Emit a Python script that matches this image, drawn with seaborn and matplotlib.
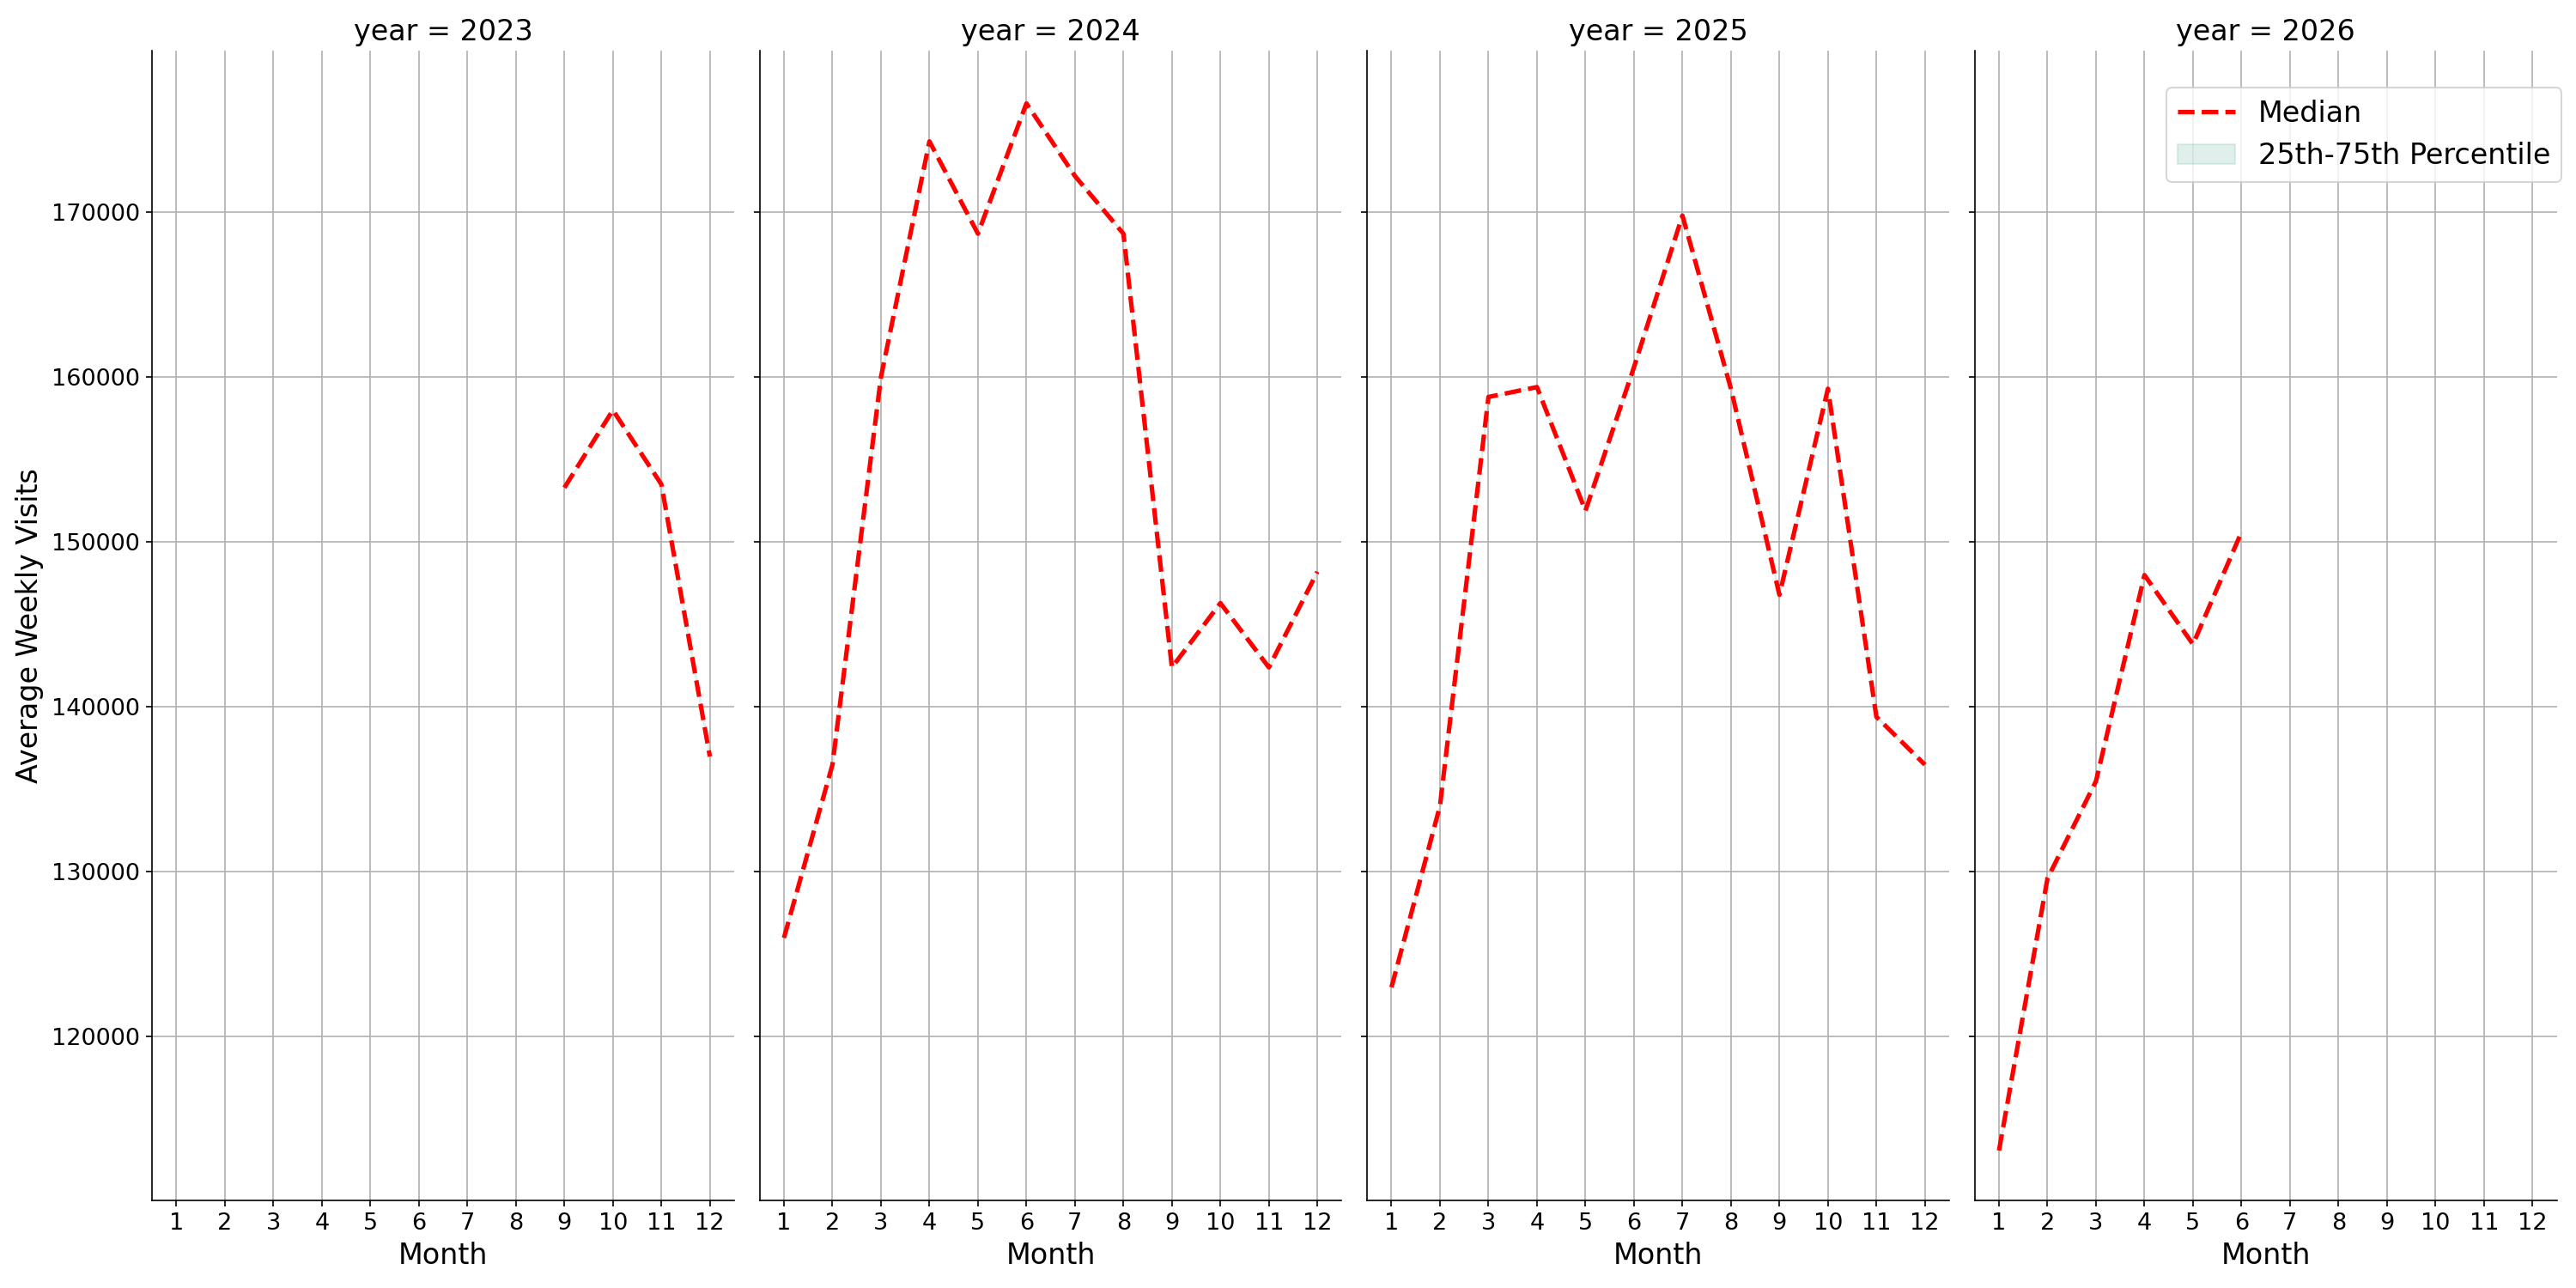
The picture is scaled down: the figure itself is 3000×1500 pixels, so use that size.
import numpy as np
import pandas as pd
import matplotlib
matplotlib.use('Agg')
import matplotlib.pyplot as plt
import seaborn as sns

# ============================================================
# DATA
# ============================================================

years = [2023, 2024, 2025, 2026]
months_2023 = [9, 10, 11, 12]
median_2023 = [153300, 158000, 153500, 137000]
months_2024 = [1, 2, 3, 4, 5, 6, 7, 8, 9, 10, 11, 12]
median_2024 = [126000, 136500, 160000, 174300, 168700, 176600,
               172200, 168700, 142400, 146300, 142400, 148200]
months_2025 = [1, 2, 3, 4, 5, 6, 7, 8, 9, 10, 11, 12]
median_2025 = [123000, 134000, 158800, 159400, 151900, 160600,
               169800, 159300, 146800, 159300, 139400, 136500]
months_2026 = [1, 2, 3, 4, 5, 6]
median_2026 = [113100, 129600, 135500, 148000, 143800, 150600]

# percentile band collapses onto the median (one value per month)
p25_by_year = {2023: median_2023, 2024: median_2024, 2025: median_2025, 2026: median_2026}
p75_by_year = {2023: median_2023, 2024: median_2024, 2025: median_2025, 2026: median_2026}

month_ticks = list(range(1, 13))
y_limits = (110100, 179800)

frames = []
for yr, m, med in zip(years, [months_2023, months_2024, months_2025, months_2026],
                      [median_2023, median_2024, median_2025, median_2026]):
    frames.append(pd.DataFrame({'year': yr, 'month': m, 'median': med,
                                'p25': p25_by_year[yr], 'p75': p75_by_year[yr]}))
df = pd.concat(frames, ignore_index=True)

# ============================================================
# PLOT
# ============================================================

plt.rcParams['xtick.labelsize'] = 13
plt.rcParams['ytick.labelsize'] = 13

def draw_panel(data, **kws):
    ax = plt.gca()
    ax.fill_between(data['month'], data['p25'], data['p75'],
                    color='#69b3a2', alpha=0.2, label='25th-75th Percentile')
    sns.lineplot(data=data, x='month', y='median', ax=ax, color='red',
                 linestyle='--', linewidth=2.5, label='Median', legend=False)
    ax.grid(True)

g = sns.FacetGrid(df, col='year', height=10, aspect=0.5, sharey=True)
g.map_dataframe(draw_panel)
g.set_axis_labels('Month', 'Average Weekly Visits', fontsize=16)
g.set_titles('year = {col_name}', size=16)
for ax in g.axes.flat:
    ax.set_xticks(month_ticks)
    ax.set_xlim(0.5, 12.5)
    ax.set_ylim(*y_limits)

g.figure.tight_layout()

last = g.axes.flat[-1]
handles, labels = last.get_legend_handles_labels()
order = [labels.index('Median'), labels.index('25th-75th Percentile')]
g.figure.legend([handles[i] for i in order], [labels[i] for i in order],
                loc='upper right', bbox_to_anchor=(1.0, 0.943), fontsize=16)

g.figure.savefig('out.png', dpi=150)
print("saved out.png")
